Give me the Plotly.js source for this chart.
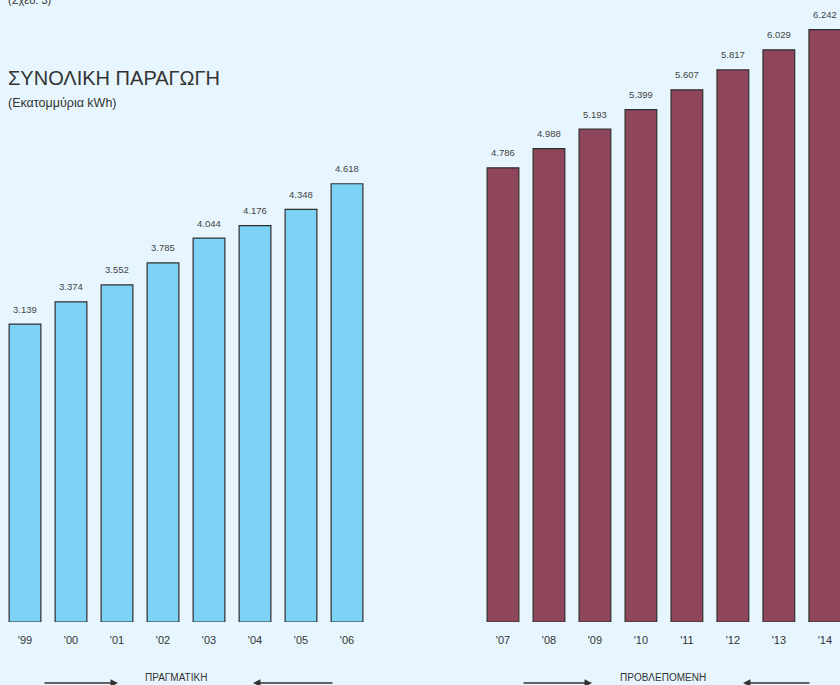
<!DOCTYPE html>
<html>
<head>
<meta charset="utf-8">
<script src="https://cdn.plot.ly/plotly-3.0.1.min.js"></script>
<style>html,body{margin:0;padding:0;background:#e7f6fe;}#chart{width:840px;height:685px;}</style>
</head>
<body>
<div id="chart"></div>
<script>
const actualYears = ["'99", "'00", "'01", "'02", "'03", "'04", "'05", "'06"];
const actualValues = [3139, 3374, 3552, 3785, 4044, 4176, 4348, 4618];
const forecastYears = ["'07", "'08", "'09", "'10", "'11", "'12", "'13", "'14"];
const forecastValues = [4786, 4988, 5193, 5399, 5607, 5817, 6029, 6242];
const titleText = "ΣΥΝΟΛΙΚΗ ΠΑΡΑΓΩΓΗ";
const subtitleText = "(Εκατομμύρια kWh)";
const figText = "(Σχεδ. 3)";
const actualLabel = "ΠΡΑΓΜΑΤΙΚΗ";
const forecastLabel = "ΠΡΟΒΛΕΠΟΜΕΝΗ";

const fmt = v => (v / 1000).toFixed(3);
const FONT = "Liberation Sans, Arial, sans-serif";
const TXT = "#333333";

const traces = [
  {type: "bar", x: actualYears, y: actualValues, xaxis: "x", yaxis: "y",
   marker: {color: "#7dd3f6", line: {color: "#2f2f2f", width: 1.2}},
   hoverinfo: "skip", showlegend: false},
  {type: "bar", x: forecastYears, y: forecastValues, xaxis: "x2", yaxis: "y",
   marker: {color: "#90465a", line: {color: "#2f2f2f", width: 1.2}},
   hoverinfo: "skip", showlegend: false}
];

const annotations = [];
actualYears.forEach((c, i) => annotations.push({
  xref: "x", yref: "y", x: i, y: actualValues[i], text: fmt(actualValues[i]),
  showarrow: false, yanchor: "middle", yshift: 15,
  font: {family: FONT, size: 9.5, color: "#444"}
}));
forecastYears.forEach((c, i) => annotations.push({
  xref: "x2", yref: "y", x: i, y: forecastValues[i], text: fmt(forecastValues[i]),
  showarrow: false, yanchor: "middle", yshift: 15,
  font: {family: FONT, size: 9.5, color: "#444"}
}));

// titles
annotations.push({xref: "paper", yref: "paper", x: 6/840, y: 1 - 78/622, xanchor: "left", yanchor: "middle",
  text: titleText, showarrow: false, font: {family: FONT, size: 20, color: TXT}});
annotations.push({xref: "paper", yref: "paper", x: 6/840, y: 1 - 103/622, xanchor: "left", yanchor: "middle",
  text: subtitleText, showarrow: false, font: {family: FONT, size: 12.5, color: TXT}});
annotations.push({xref: "paper", yref: "paper", x: 6/840, y: 1 + 0/622, xanchor: "left", yanchor: "middle",
  text: figText, showarrow: false, font: {family: FONT, size: 11, color: TXT}});

// bottom labels
const py = px => (622 - px) / 622;
annotations.push({xref: "paper", yref: "paper", x: 176/840, y: py(677), xanchor: "center", yanchor: "middle",
  text: actualLabel, showarrow: false, font: {family: FONT, size: 10, color: TXT}});
annotations.push({xref: "paper", yref: "paper", x: 663/840, y: py(677), xanchor: "center", yanchor: "middle",
  text: forecastLabel, showarrow: false, font: {family: FONT, size: 10, color: TXT}});

function arrow(tipX, tailX, yPx) {
  annotations.push({xref: "paper", yref: "paper", x: tipX/840, y: py(yPx), text: "",
    showarrow: true, ax: tailX - tipX, ay: 0, axref: "pixel", ayref: "pixel",
    arrowhead: 2, arrowsize: 1, arrowwidth: 1.5, arrowcolor: "#333"});
}
arrow(118, 43, 683);
arrow(253, 334, 683);
arrow(592, 522, 683);
arrow(743, 811, 683);

const axCommon = {type: "category", showgrid: false, zeroline: false, showline: false,
  ticks: "outside", ticklen: 8, tickcolor: "rgba(0,0,0,0)", tickfont: {family: FONT, size: 11, color: TXT}};

const layout = {
  width: 840, height: 685,
  margin: {l: 0, r: 0, t: 0, b: 63},
  paper_bgcolor: "#e7f6fe", plot_bgcolor: "#e7f6fe",
  bargap: 0.31,
  xaxis: Object.assign({domain: [2/840, 370/840], range: [-0.5, 7.5], anchor: "y"}, axCommon),
  xaxis2: Object.assign({domain: [480/840, 1], range: [-0.5, 7.33], anchor: "y"}, axCommon),
  yaxis: {range: [0, 6554], visible: false, showgrid: false, zeroline: false, fixedrange: true},
  annotations: annotations,
  showlegend: false
};

Plotly.newPlot("chart", traces, layout, {staticPlot: true, displayModeBar: false});
</script>
</body>
</html>
